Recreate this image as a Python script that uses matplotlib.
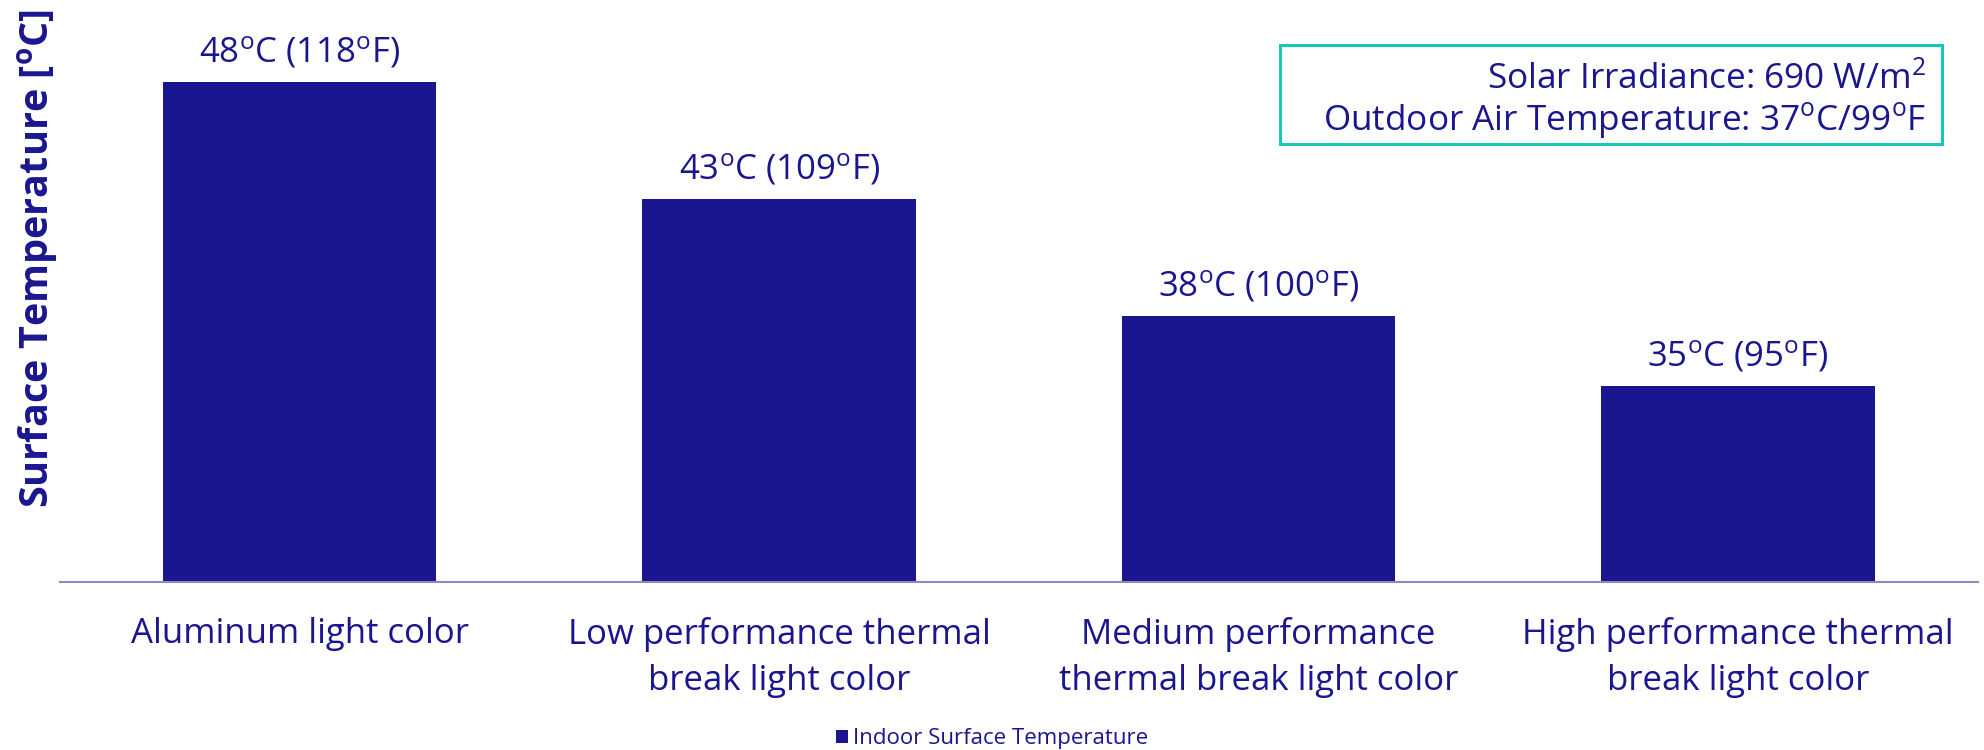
import matplotlib
matplotlib.use("Agg")
import matplotlib.pyplot as plt
from matplotlib.patches import Rectangle

#Fonts: Open Sans for everything, also inside the $...$ superscripts
plt.rcParams['font.family'] = ['Open Sans', 'DejaVu Sans']
plt.rcParams['mathtext.fontset'] = 'custom'
plt.rcParams['mathtext.rm'] = 'Open Sans'
plt.rcParams['mathtext.it'] = 'Open Sans:italic'
plt.rcParams['mathtext.bf'] = 'Open Sans:bold'

#Data
categories = ["Aluminum light color",
              "Low performance thermal\nbreak light color",
              "Medium performance\nthermal break light color",
              "High performance thermal\nbreak light color"]
temps_c = [48, 43, 38, 35]
temps_f = [118, 109, 100, 95]
series_name = "Indoor Surface Temperature"
irradiance = 690
outdoor_c = 37
outdoor_f = 99

navy = '#19168f'
teal = '#14c9b7'
axis_col = '#8f8bbf'

fig = plt.figure(figsize=(19.84, 7.5), dpi=100)
ax = fig.add_axes([0.0302, 0.224, 0.9667, 0.7493])

x = range(len(categories))
bars = ax.bar(x, temps_c, width=0.57, color=navy, label=series_name)

#value labels above the bars
for b, c, f in zip(bars, temps_c, temps_f):
    ax.annotate(f"{c}$^{{\\mathrm{{o}}}}$C ({f}$^{{\\mathrm{{o}}}}$F)",
                (b.get_x() + b.get_width() / 2, b.get_height()),
                xytext=(0, 8), textcoords='offset points',
                ha='center', va='bottom', fontsize=25, color=navy)

ax.set_xlim(-0.5, 3.5)
ax.set_ylim(26.61, 50.65)
ax.set_xticks(list(x))
ax.set_xticklabels(categories, fontsize=25, color=navy, linespacing=1.48)
ax.tick_params(axis='x', length=0, pad=25)
ax.set_yticks([])

for s in ['top', 'right', 'left']:
    ax.spines[s].set_visible(False)
ax.spines['bottom'].set_color(axis_col)
ax.spines['bottom'].set_linewidth(1.5)

fig.text(0.019, 0.655, "Surface Temperature [$^{\\mathbf{o}}$C]", rotation=90,
         ha='center', va='center', fontsize=28.5, fontweight='bold', color=navy)

#info box top right
fig.patches.append(Rectangle((0.6452, 0.808), 0.3337, 0.132, transform=fig.transFigure,
                             fill=False, edgecolor=teal, linewidth=2.2))
fig.text(0.9708, 0.882, f"Solar Irradiance: {irradiance} W/m$^{{2}}$",
         ha='right', va='baseline', fontsize=25.3, color=navy)
fig.text(0.9708, 0.8267,
         f"Outdoor Air Temperature: {outdoor_c}$^{{\\mathrm{{o}}}}$C/{outdoor_f}$^{{\\mathrm{{o}}}}$F",
         ha='right', va='baseline', fontsize=25.3, color=navy)

leg = fig.legend(loc='center', bbox_to_anchor=(0.5, 0.0147), frameon=False,
                 fontsize=16, handlelength=0.54, handleheight=0.54,
                 handletextpad=0.2, borderpad=0)
for t in leg.get_texts():
    t.set_color(navy)

fig.savefig("out.png", dpi=100)
